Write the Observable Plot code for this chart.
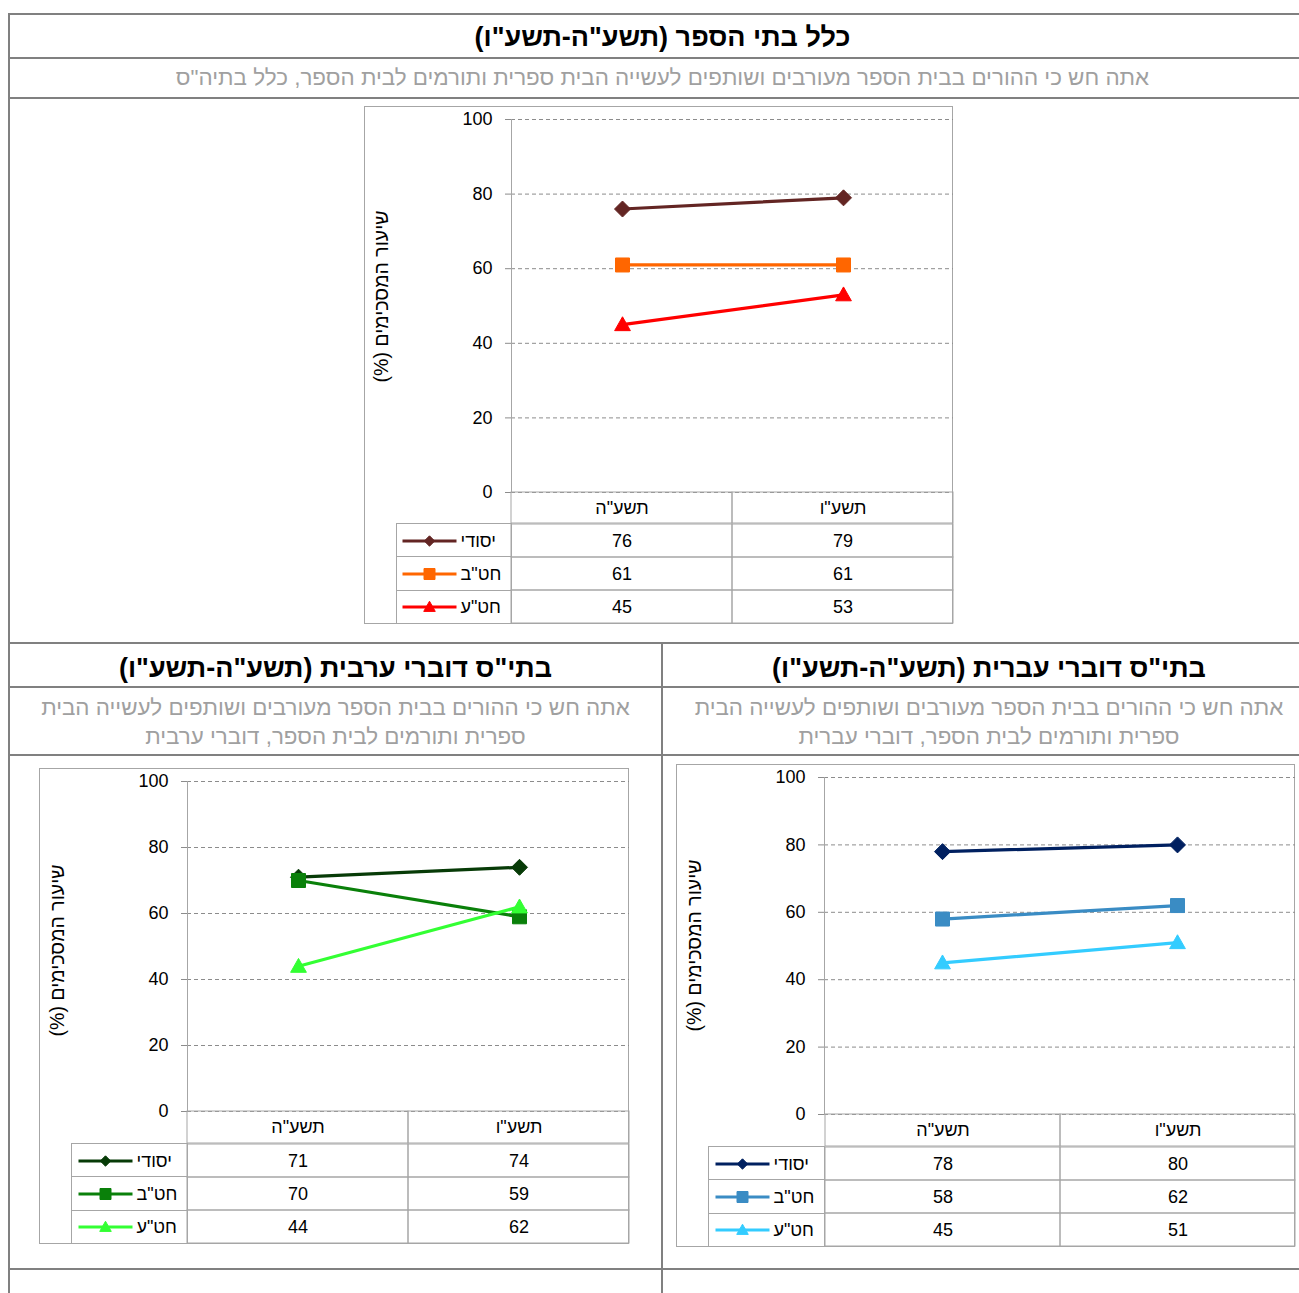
<!DOCTYPE html>
<html><head><meta charset="utf-8">
<script src="https://cdn.jsdelivr.net/npm/d3@7"></script>
<script src="https://cdn.jsdelivr.net/npm/@observablehq/plot@0.6"></script>
<style>
body{margin:0;width:1299px;height:1293px;overflow:hidden;position:relative;background:#fff;font-family:'Liberation Sans',Arial,sans-serif;}
.ln{position:absolute;background:#808080;}
.t{position:absolute;text-align:center;direction:rtl;white-space:nowrap;}
.title{font-weight:bold;font-size:27px;color:#000;}
.sub{font-size:22.4px;color:#a0a0a0;}
.box{position:absolute;border:1px solid #a6a6a6;box-sizing:border-box;}
.abs{position:absolute;}
.lg{position:absolute;border:1px solid #a6a6a6;box-sizing:border-box;}
</style></head><body>
<script>
// ---- data ----
const years = ["תשע\"ה", "תשע\"ו"];
const series = ["יסודי", "חט\"ב", "חט\"ע"];
const valuesAll = [[76, 79], [61, 61], [45, 53]];
const valuesHebrew = [[78, 80], [58, 62], [45, 51]];
const valuesArabic = [[71, 74], [70, 59], [44, 62]];
const yTicks = [0, 20, 40, 60, 80, 100];
const yLabel = "שיעור המסכימים (%)\u200F";
const titleAll = "כלל בתי הספר (תשע\"ה-תשע\"ו)";
const subAll = "אתה חש כי ההורים בבית הספר מעורבים ושותפים לעשייה הבית ספרית ותורמים לבית הספר, כלל בתיה\"ס";
const titleHebrew = "בתי\"ס דוברי עברית (תשע\"ה-תשע\"ו)";
const subHebrew = ["אתה חש כי ההורים בבית הספר מעורבים ושותפים לעשייה הבית", "ספרית ותורמים לבית הספר, דוברי עברית"];
const titleArabic = "בתי\"ס דוברי ערבית (תשע\"ה-תשע\"ו)";
const subArabic = ["אתה חש כי ההורים בבית הספר מעורבים ושותפים לעשייה הבית", "ספרית ותורמים לבית הספר, דוברי ערבית"];
const colorsAll = ["#632523", "#FF6600", "#FF0000"];
const colorsHebrew = ["#002060", "#3A8CC4", "#33CCFF"];
const colorsArabic = ["#073B07", "#0A800A", "#33FF33"];

// ---- symbols ----
const R = (s) => Math.sqrt(s / Math.PI);
const diamond = {draw(c, s) { const r = R(s); c.moveTo(0, -r); c.lineTo(r, 0); c.lineTo(0, r); c.lineTo(-r, 0); c.closePath(); }};
const square = {draw(c, s) { const r = R(s); c.rect(-r, -r, 2 * r, 2 * r); }};
const triangle = {draw(c, s) { const r = R(s); c.moveTo(0, -r * 1.05); c.lineTo(r * 1.05, r * 0.8); c.lineTo(-r * 1.05, r * 0.8); c.closePath(); }};
const hline = {draw(c, s) { const r = R(s); c.moveTo(-r, 0); c.lineTo(r, 0); }};
const symbols = [diamond, square, triangle];
const markR = [8, 7, 7.5];
const keyR = [5.2, 5.5, 5.5];

const FONT = "'Liberation Sans', Arial, sans-serif";

function el(cls, style, html) {
  const d = document.createElement("div");
  d.className = cls;
  Object.assign(d.style, style);
  if (html != null) d.innerHTML = html;
  document.body.appendChild(d);
  return d;
}

// ---- frame lines ----
el("ln", {left: "8px", top: "13px", width: "1300px", height: "2px"});
el("ln", {left: "8px", top: "13px", width: "2px", height: "1290px"});
el("ln", {left: "8px", top: "57px", width: "1300px", height: "2px"});
el("ln", {left: "8px", top: "97px", width: "1300px", height: "2px"});
el("ln", {left: "8px", top: "642px", width: "1300px", height: "2px"});
el("ln", {left: "661px", top: "642px", width: "2px", height: "660px"});
el("ln", {left: "8px", top: "686px", width: "1300px", height: "2px"});
el("ln", {left: "8px", top: "754px", width: "1300px", height: "2px"});
el("ln", {left: "8px", top: "1268px", width: "1300px", height: "2px"});

// ---- titles ----
el("t title", {left: "10px", width: "1305px", top: "16px", lineHeight: "43px"}).textContent = titleAll;
el("t sub", {left: "10px", width: "1305px", top: "59px", lineHeight: "38px"}).textContent = subAll;
el("t title", {left: "10px", width: "651px", top: "647px", lineHeight: "43px"}).textContent = titleArabic;
el("t title", {left: "663px", width: "652px", top: "647px", lineHeight: "43px"}).textContent = titleHebrew;
el("t sub", {left: "10px", width: "651px", top: "693px", lineHeight: "29px"}).innerHTML = subArabic.join("<br>");
el("t sub", {left: "663px", width: "652px", top: "693px", lineHeight: "29px"}).innerHTML = subHebrew.join("<br>");

// ---- charts ----
function chart(values, colors, g) {
  const W = g.right - g.left;
  el("box", {left: g.left + "px", top: g.top + "px", width: W + "px", height: (g.bottom - g.top) + "px"});
  const rows = [];
  series.forEach((s, i) => years.forEach((y, j) => rows.push({series: s, year: y, value: values[i][j], i})));
  const frameMid = (g.y100 + g.y0) / 2;
  const marks = [
    Plot.gridY(yTicks, {stroke: "#8c8c8c", strokeOpacity: 1, strokeDasharray: "4,3"}),
    Plot.frame({anchor: "left", stroke: "#a6a6a6", strokeDasharray: "1,1"}),
    Plot.axisY(yTicks, {tickSize: 6, tickPadding: 13, stroke: "#8c8c8c", fontSize: 18, fill: "#000", label: null, tickFormat: d => d}),
    Plot.text([yLabel], {frameAnchor: "left", textAnchor: "middle", rotate: -90, dx: g.labelX - g.x0, dy: g.labelY - frameMid, fontSize: 19.5, fill: "#000"})
  ];
  series.forEach((s, i) => {
    const d = rows.filter(r => r.i === i);
    marks.push(Plot.line(d, {x: "year", y: "value", stroke: colors[i], strokeWidth: 3.2}));
    marks.push(Plot.dot(d, {x: "year", y: "value", symbol: symbols[i], r: markR[i], fill: colors[i], stroke: colors[i], strokeWidth: 1}));
  });
  const p = Plot.plot({
    width: W, height: g.y0 - g.top,
    marginLeft: g.x0 - g.left, marginRight: g.right - g.x1, marginTop: g.y100 - g.top, marginBottom: 0,
    x: {type: "point", domain: years, padding: 0.5, axis: null},
    y: {domain: [0, 100], axis: null},
    style: {fontFamily: FONT, overflow: "visible", background: "transparent"},
    marks
  });
  el("abs", {left: g.left + "px", top: g.top + "px"}).appendChild(p);

  // header row of the data table
  const hdr = Plot.plot({
    width: W, height: g.headerH,
    marginLeft: g.x0 - g.left, marginRight: g.right - g.x1, marginTop: 0, marginBottom: 0,
    x: {type: "band", domain: years, padding: 0, axis: null},
    style: {fontFamily: FONT, overflow: "visible", background: "transparent"},
    marks: [
      Plot.cell(years, {x: d => d, fill: "none", stroke: "#a6a6a6", strokeWidth: 1}),
      Plot.text(years, {x: d => d, text: d => d, fontSize: 18, fill: "#000"})
    ]
  });
  el("abs", {left: g.left + "px", top: g.y0 + "px"}).appendChild(hdr);

  // body rows of the data table
  const bodyTop = g.y0 + g.headerH;
  const rowH = (g.bottom - bodyTop) / 3;
  const tmarks = [
    Plot.cell(rows, {x: "year", y: "series", fill: "none", stroke: "#a6a6a6", strokeWidth: 1}),
    Plot.text(rows, {x: "year", y: "series", text: "value", fontSize: 18, fill: "#000"}),
    Plot.text(series, {y: d => d, frameAnchor: "left", dx: -51, textAnchor: "start", text: d => d, fontSize: 18, fill: "#000"})
  ];
  series.forEach((s, i) => {
    tmarks.push(Plot.dot([s], {y: d => d, frameAnchor: "left", dx: -82, symbol: hline, r: 27, stroke: colors[i], strokeWidth: 3}));
    tmarks.push(Plot.dot([s], {y: d => d, frameAnchor: "left", dx: -82, symbol: symbols[i], r: keyR[i], fill: colors[i], stroke: colors[i], strokeWidth: 1}));
  });
  const t = Plot.plot({
    width: W, height: g.bottom - bodyTop,
    marginLeft: g.x0 - g.left, marginRight: g.right - g.x1, marginTop: 0, marginBottom: 0,
    x: {type: "band", domain: years, padding: 0, axis: null},
    y: {type: "band", domain: series, padding: 0, axis: null},
    style: {fontFamily: FONT, overflow: "visible", background: "transparent"},
    marks: tmarks
  });
  for (let k = 0; k < 3; k++) {
    el("lg", {left: g.legendLeft + "px", top: (bodyTop + k * rowH - 0.5) + "px", width: (g.x0 - g.legendLeft + 1) + "px", height: (rowH + 1) + "px"});
  }
  el("abs", {left: g.left + "px", top: bodyTop + "px"}).appendChild(t);
}

chart(valuesAll, colorsAll, {left: 364, top: 106, right: 953, bottom: 624, x0: 511, x1: 953, y100: 119, y0: 492, headerH: 31, legendLeft: 396, labelX: 381, labelY: 296});
chart(valuesArabic, colorsArabic, {left: 39, top: 768, right: 629, bottom: 1244, x0: 187, x1: 629, y100: 781, y0: 1111, headerH: 32, legendLeft: 71, labelX: 57, labelY: 950});
chart(valuesHebrew, colorsHebrew, {left: 676, top: 764, right: 1295, bottom: 1247, x0: 824, x1: 1295, y100: 777, y0: 1114, headerH: 32, legendLeft: 708, labelX: 694, labelY: 945});
</script>
</body></html>
